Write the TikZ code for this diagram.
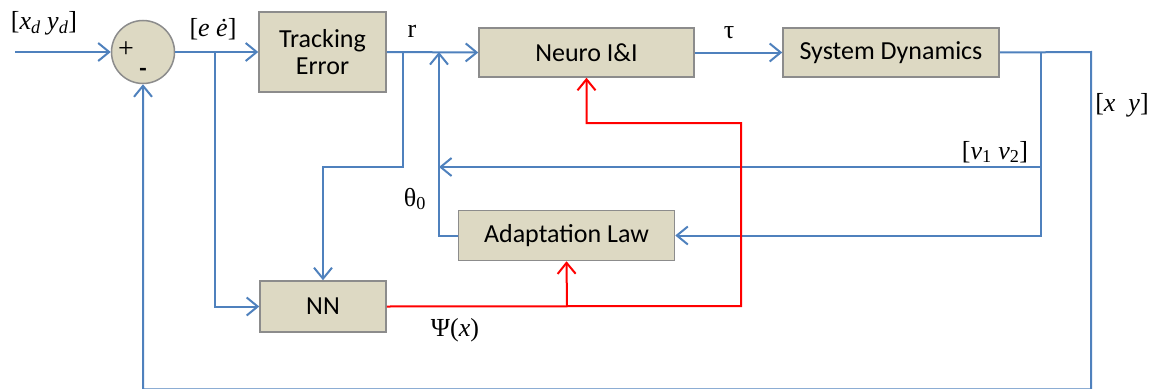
\documentclass[tikz,border=0pt]{standalone}
\usepackage{fontspec}
\setmainfont{Liberation Serif}
\newfontfamily\calib{Carlito}
\usetikzlibrary{arrows.meta}
\definecolor{lblue}{HTML}{4F81BD}
\definecolor{boxfill}{HTML}{DDD9C3}
\definecolor{boxdraw}{HTML}{8C8C8C}
\definecolor{redline}{HTML}{FF0000}
\begin{document}
\begin{tikzpicture}[x=1pt,y=-1pt,
  blk/.style={draw=boxdraw, line width=1.5pt, fill=boxfill, inner sep=0pt, font=\calib\fontsize{26}{27}\selectfont, align=center},
  sig/.style={draw=lblue, line width=2pt},
  fb/.style={draw=redline, line width=2pt},
  tip/.style={-{Straight Barb[length=11pt,width=18pt]}},
  lbl/.style={inner sep=0pt, font=\fontsize{26}{28}\selectfont}
]
\useasboundingbox (0,0) rectangle (1158,388);
% blocks
\node[draw=boxdraw, line width=1.5pt, fill=boxfill, circle, minimum size=63pt, inner sep=0pt] (sum) at (143,52) {};
\node[inner sep=0pt, font=\fontsize{28}{28}\selectfont] (plus) at (126,50) {+};
\node[inner sep=0pt, font=\calib\bfseries\fontsize{24}{24}\selectfont] (minus) at (143,72) {-};
\node[blk, minimum width=127pt, minimum height=80pt] (te) at (322.5,52) {Tracking\\Error};
\node[blk, minimum width=215pt, minimum height=49pt] (neuro) at (586.5,52.5) {Neuro I\&I};
\node[blk, minimum width=216pt, minimum height=49pt] (sd) at (891,52.5) {System Dynamics};
\node[blk, minimum width=216pt, minimum height=50pt] (adapt) at (566.5,235.5) {Adaptation Law};
\node[blk, minimum width=126pt, minimum height=51pt] (nn) at (323,306.5) {NN};
% coordinates
\coordinate (in) at (15,52);
\coordinate (j1) at (215,52);
\coordinate (j2) at (403,52);
\coordinate (k2) at (403,167);
\coordinate (j3) at (439,52);
\coordinate (j4) at (1041,52);
\coordinate (j5) at (1091,52);
\coordinate (b1) at (1091,389.4);
\coordinate (v1) at (1041,167);
\coordinate (v2) at (439,167);
\coordinate (r1) at (741,306);
\coordinate (r2) at (741,123);
\coordinate (r3) at (567,306);
% blue connectors
\draw[sig,tip] (in) -- (sum.west);
\draw[sig,tip] (sum.east) -- (te.west);
\draw[sig,tip] (j1) |- (nn.west);
\draw[sig,tip] (te.east) -- (neuro.west);
\draw[sig,tip] (j2) -- (k2) -| (nn.north);
\draw[sig,tip] (adapt.west) -| (j3);
\draw[sig,tip] (neuro.east) -- (sd.west);
\draw[sig,tip] (sd.east) -- (j5) -- (b1) -| (sum.south);
\draw[sig,tip] (j4) |- (adapt.east);
\draw[sig,tip] (j4) -- (v1) -- (v2);
% red connectors
\draw[fb,tip] (nn.east) -- (r1) -- (r2) -| (neuro.south);
\draw[fb,tip] (r3) -- (adapt.south);
% labels
\node[lbl] (lxd) at (44,23) {[\textit{x}\textsubscript{\textit{d}} \textit{y}\textsubscript{\textit{d}}]};
\node[lbl] (lee) at (213,29) {[\textit{e ė}]};
\node[lbl] (lr) at (412,31) {r};
\node[lbl] (ltau) at (729,33) {τ};
\node[lbl] (lxy) at (1122,105) {[\textit{x} \ \textit{y}]};
\node[lbl] (lv) at (995,152) {[\textit{v}\textsubscript{1} \textit{v}\textsubscript{2}]};
\node[lbl] (lth) at (415,199) {θ\textsubscript{0}};
\node[lbl] (lpsi) at (455,330) {Ψ(\textit{x})};
\end{tikzpicture}
\end{document}
